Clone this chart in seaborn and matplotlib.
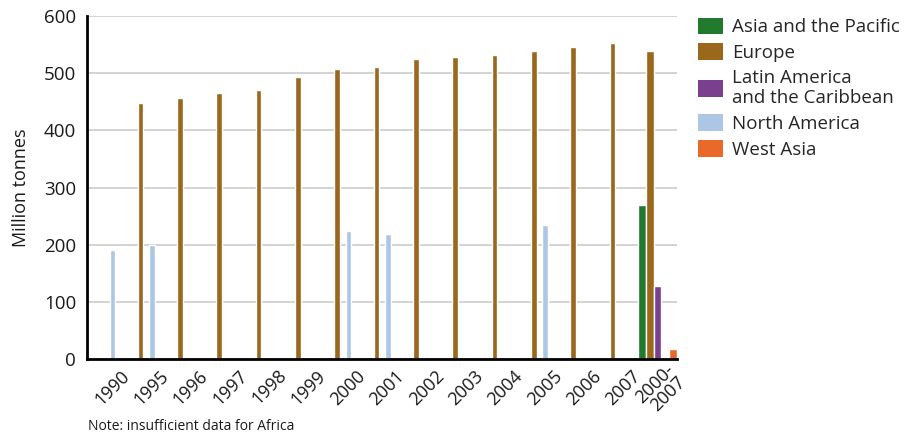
import matplotlib
matplotlib.use("Agg")
import matplotlib.pyplot as plt
from matplotlib.patches import Patch
import numpy as np
import pandas as pd
import seaborn as sns

years = ["1990", "1995", "1996", "1997", "1998", "1999", "2000", "2001",
         "2002", "2003", "2004", "2005", "2006", "2007"]
period = "2000-\n2007"
regions = ["Asia and the Pacific", "Europe", "Latin America\nand the Caribbean",
           "North America", "West Asia"]
colors = ["#217A2E", "#9A671C", "#7B3F8F", "#AEC6E6", "#E8692A"]

nan = np.nan
europe = [nan, 447, 457, 466, 471, 494, 508, 511, 525, 529, 531, 539, 545, 552]
north_america = [191, 200, nan, nan, nan, nan, 224, 218, nan, nan, nan, 235, nan, nan]
period_values = [270, 538, 128, nan, 18]

yearly = pd.DataFrame({
    "year": years * 2,
    "region": ["Europe"] * len(years) + ["North America"] * len(years),
    "value": europe + north_america,
}).dropna()
overall = pd.DataFrame({"year": period, "region": regions, "value": period_values}).dropna()

sns.set_theme(style="white")
plt.rcParams["font.family"] = ["Open Sans", "DejaVu Sans"]

fig = plt.figure(figsize=(9.05, 4.38), dpi=100)
ax = fig.add_axes([0.0965, 0.18, 0.6518, 0.7835])

order = years + [period]
palette = dict(zip(regions, colors))
sns.barplot(data=yearly, x="year", y="value", hue="region", order=order,
            hue_order=regions, palette=palette, width=0.72, saturation=1,
            legend=False, ax=ax)
sns.barplot(data=overall, x="year", y="value", hue="region", order=order,
            hue_order=regions, palette=palette, width=1.0, saturation=1,
            legend=False, ax=ax)

ax.set_xlim(-0.5, len(order) - 0.5)
ax.set_ylim(0, 600)
ax.set_yticks(range(0, 601, 100))
ax.yaxis.grid(True, color="#CCCCCC", linewidth=1.2)
ax.set_axisbelow(True)
ax.set_xticks(np.arange(len(order)) + 0.5)
ax.set_xticklabels(order, rotation=45, ha="right", va="center", rotation_mode="anchor",
                   fontsize=13, color="#1a1a1a", linespacing=0.9)
ax.tick_params(axis="x", length=5, width=1.8, color="black", pad=5)
ax.tick_params(axis="y", length=0, labelsize=13.5, labelcolor="#1a1a1a", pad=8)
ax.set_xlabel("")
ax.set_ylabel("Million tonnes", fontsize=13, color="#1a1a1a", labelpad=10)
for side in ["top", "right"]:
    ax.spines[side].set_visible(False)
for side in ["left", "bottom"]:
    ax.spines[side].set_color("black")
    ax.spines[side].set_linewidth(2)

handles = [Patch(facecolor=c, edgecolor="none") for c in colors]
fig.legend(handles, regions, loc="upper left", bbox_to_anchor=(0.771, 0.96),
           frameon=False, fontsize=13.5, handlelength=1.33, handleheight=1.0,
           handletextpad=0.5, labelspacing=0.36, borderpad=0, borderaxespad=0)

fig.text(0.097, 0.018, "Note: insufficient data for Africa", fontsize=10, color="#1a1a1a")

fig.savefig("out.png", dpi=100)
